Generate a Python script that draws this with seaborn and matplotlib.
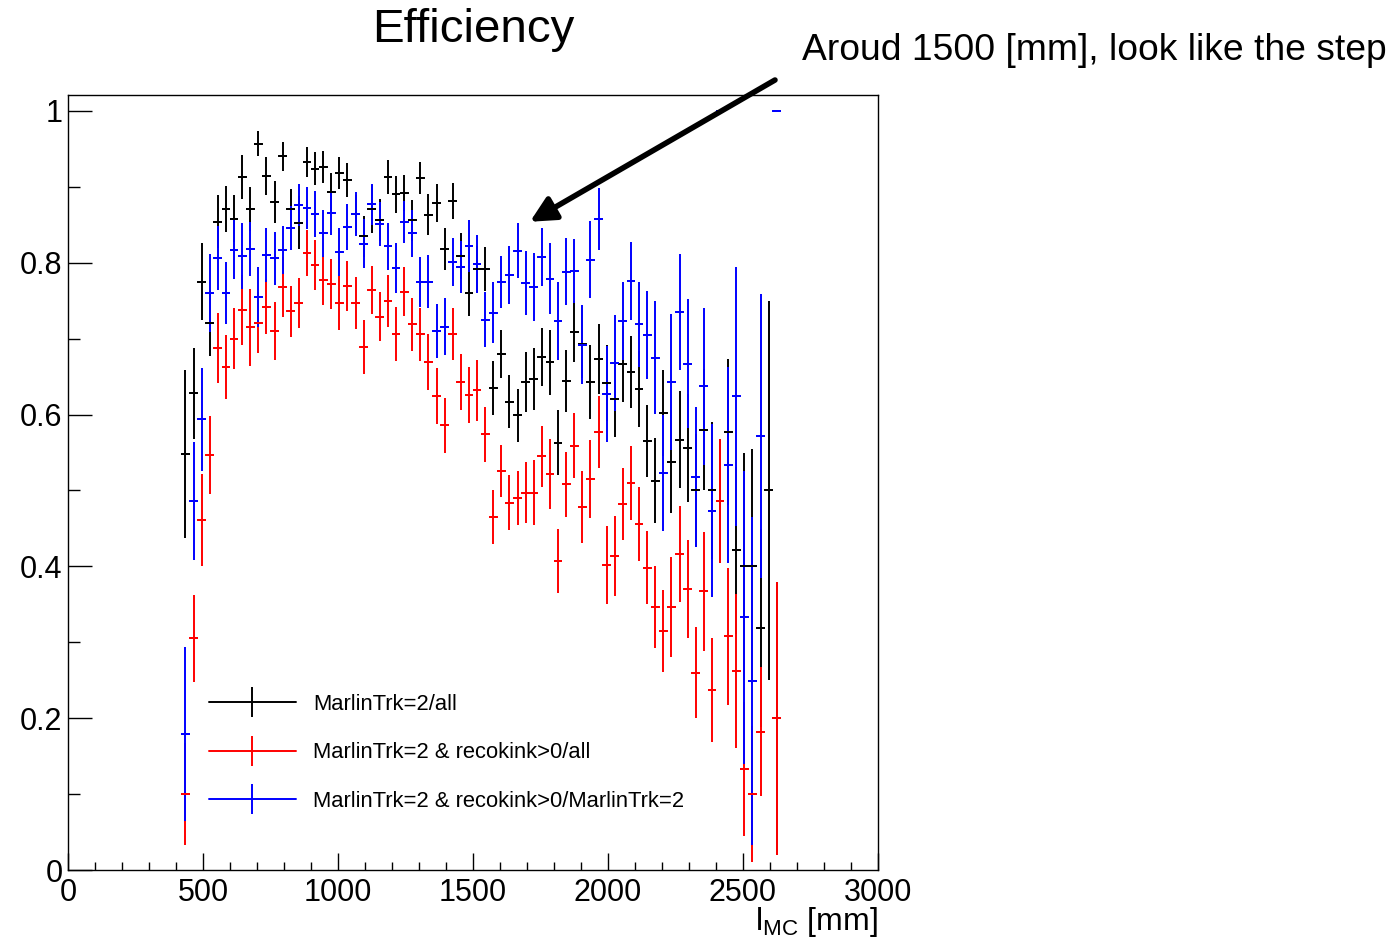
import numpy as np
import matplotlib
matplotlib.use("Agg")
import matplotlib.pyplot as plt
from matplotlib.lines import Line2D
from matplotlib.ticker import MultipleLocator
import seaborn as sns
import pandas as pd

# ---------------- data ----------------
# bin centres [mm] (bins of 30 mm, 435 ... 2625)
bin_centers = np.arange(435, 2626, 30)

eff_all = [0.548, 0.628, 0.775, 0.720, 0.854, 0.871, 0.858, 0.913, 0.871, 0.957, 0.914, 0.880, 0.940,
           0.871, 0.853, 0.933, 0.924, 0.926, 0.893, 0.918, 0.909, 0.864, 0.835, 0.871, 0.856, 0.913,
           0.890, 0.892, 0.856, 0.912, 0.863, 0.879, 0.818, 0.881, 0.809, 0.760, 0.792, 0.792, 0.635,
           0.680, 0.617, 0.599, 0.643, 0.647, 0.676, 0.669, 0.563, 0.644, 0.709, 0.693, 0.643, 0.673,
           0.642, 0.621, 0.667, 0.656, 0.634, 0.565, 0.513, 0.602, 0.538, 0.567, 0.556, 0.500, 0.580,
           0.500, 0.486, 0.577, 0.421, 0.400, 0.400, 0.319, 0.500, 0.200]
err_all = [0.111, 0.060, 0.051, 0.043, 0.035, 0.030, 0.031, 0.029, 0.029, 0.017, 0.025, 0.028, 0.019,
           0.026, 0.035, 0.020, 0.022, 0.021, 0.025, 0.021, 0.022, 0.025, 0.027, 0.032, 0.028, 0.022,
           0.024, 0.024, 0.027, 0.021, 0.027, 0.025, 0.028, 0.024, 0.030, 0.030, 0.030, 0.029, 0.035,
           0.032, 0.035, 0.035, 0.039, 0.041, 0.038, 0.043, 0.043, 0.041, 0.040, 0.045, 0.049, 0.046,
           0.050, 0.050, 0.050, 0.047, 0.050, 0.047, 0.056, 0.057, 0.068, 0.064, 0.071, 0.075, 0.080,
           0.090, 0.082, 0.096, 0.110, 0.150, 0.155, 0.130, 0.250, 0.180]

eff_kink = [0.100, 0.305, 0.461, 0.547, 0.688, 0.663, 0.700, 0.738, 0.715, 0.721, 0.742, 0.710, 0.768,
            0.736, 0.747, 0.813, 0.797, 0.777, 0.772, 0.747, 0.769, 0.747, 0.689, 0.764, 0.729, 0.750,
            0.706, 0.762, 0.719, 0.706, 0.669, 0.625, 0.586, 0.706, 0.643, 0.626, 0.632, 0.574, 0.465,
            0.526, 0.484, 0.490, 0.497, 0.497, 0.545, 0.522, 0.407, 0.508, 0.559, 0.478, 0.515, 0.577,
            0.402, 0.414, 0.482, 0.510, 0.456, 0.398, 0.346, 0.315, 0.346, 0.416, 0.370, 0.260, 0.367,
            0.237, 0.486, 0.308, 0.262, 0.133, 0.100, 0.182, np.nan, 0.200]
err_kink = [0.067, 0.057, 0.061, 0.051, 0.046, 0.042, 0.040, 0.046, 0.051, 0.040, 0.036, 0.038, 0.040,
            0.034, 0.033, 0.030, 0.033, 0.032, 0.033, 0.035, 0.033, 0.034, 0.036, 0.032, 0.032, 0.034,
            0.036, 0.032, 0.035, 0.035, 0.037, 0.037, 0.036, 0.034, 0.037, 0.037, 0.040, 0.036, 0.036,
            0.034, 0.036, 0.036, 0.040, 0.043, 0.040, 0.046, 0.042, 0.043, 0.043, 0.047, 0.051, 0.048,
            0.051, 0.053, 0.047, 0.049, 0.049, 0.048, 0.054, 0.054, 0.066, 0.063, 0.065, 0.060, 0.078,
            0.068, 0.082, 0.090, 0.101, 0.088, 0.090, 0.085, np.nan, 0.180]

eff_ratio = [0.179, 0.486, 0.594, 0.760, 0.806, 0.760, 0.817, 0.809, 0.818, 0.755, 0.810, 0.806, 0.817,
             0.846, 0.876, 0.872, 0.864, 0.839, 0.866, 0.814, 0.847, 0.864, 0.825, 0.877, 0.851, 0.822,
             0.793, 0.854, 0.839, 0.775, 0.775, 0.710, 0.716, 0.801, 0.794, 0.822, 0.798, 0.725, 0.734,
             0.775, 0.784, 0.816, 0.773, 0.768, 0.808, 0.779, 0.723, 0.788, 0.789, 0.692, 0.804, 0.858,
             0.627, 0.668, 0.723, 0.776, 0.719, 0.705, 0.675, 0.523, 0.643, 0.735, 0.667, 0.518, 0.637,
             0.473, 1.000, 0.534, 0.624, 0.333, 0.249, 0.572, np.nan, 1.000]
err_ratio = [0.115, 0.078, 0.068, 0.051, 0.042, 0.041, 0.039, 0.043, 0.036, 0.039, 0.036, 0.035, 0.032,
             0.029, 0.028, 0.028, 0.030, 0.031, 0.029, 0.032, 0.030, 0.029, 0.032, 0.027, 0.029, 0.031,
             0.033, 0.028, 0.031, 0.033, 0.035, 0.036, 0.037, 0.032, 0.034, 0.034, 0.038, 0.036, 0.040,
             0.034, 0.038, 0.036, 0.042, 0.045, 0.038, 0.047, 0.051, 0.044, 0.042, 0.052, 0.051, 0.041,
             0.063, 0.063, 0.051, 0.051, 0.056, 0.058, 0.074, 0.076, 0.090, 0.076, 0.085, 0.092, 0.103,
             0.114, 0.000, 0.129, 0.171, 0.193, 0.216, 0.187, np.nan, 0.000]

labels = ["MarlinTrk=2/all",
          "MarlinTrk=2 & recokink>0/all",
          "MarlinTrk=2 & recokink>0/MarlinTrk=2"]
colors = ["#000000", "#ff0000", "#0000ff"]
bin_half_width = 15

# ---------------- style ----------------
sns.set_style("ticks")
plt.rcParams["font.family"] = ["Liberation Sans", "DejaVu Sans"]
plt.rcParams["mathtext.fontset"] = "custom"
plt.rcParams["mathtext.rm"] = "Liberation Sans"
plt.rcParams["mathtext.it"] = "Liberation Sans:italic"
plt.rcParams["text.color"] = "black"
plt.rcParams["axes.labelcolor"] = "black"
plt.rcParams["xtick.color"] = "black"
plt.rcParams["ytick.color"] = "black"
plt.rcParams["axes.edgecolor"] = "black"

fig = plt.figure(figsize=(13.98, 9.39), dpi=100)
ax = fig.add_axes([68 / 1398, 1 - 870 / 939, 810 / 1398, 775 / 939])

frames = []
for lab, v, e in zip(labels, [eff_all, eff_kink, eff_ratio], [err_all, err_kink, err_ratio]):
    frames.append(pd.DataFrame({"x": bin_centers, "eff": v, "err": e, "series": lab}))
df = pd.concat(frames, ignore_index=True)

for lab, col in zip(labels, colors):
    d = df[(df["series"] == lab) & df["eff"].notna()]
    v = d["eff"].to_numpy()
    e = d["err"].to_numpy()
    lo = np.minimum(e, v)
    hi = np.minimum(e, 1 - v)
    ax.errorbar(d["x"], v, yerr=[lo, hi], xerr=bin_half_width, fmt="none",
                ecolor=col, elinewidth=1.4, capsize=0)

# horizontal centre marks drawn via seaborn (same as bin width)
sns.scatterplot(data=df.dropna(subset=["eff"]), x="x", y="eff", hue="series",
                hue_order=labels, palette=colors, marker="_", s=40, linewidth=1.4,
                legend=False, ax=ax, zorder=3)

ax.set_xlim(0, 3000)
ax.set_ylim(0, 1.021)
ax.set_xlabel("")
ax.set_ylabel("")

ax.xaxis.set_minor_locator(MultipleLocator(100))
ax.yaxis.set_minor_locator(MultipleLocator(0.1))
ax.set_yticks([0, 0.2, 0.4, 0.6, 0.8, 1.0])
ax.set_yticklabels(["0", "0.2", "0.4", "0.6", "0.8", "1"])
ax.set_xticks([0, 500, 1000, 1500, 2000, 2500, 3000])
ax.set_xticklabels(["0", "500", "1000", "1500", "2000", "2500", "3000"])
ax.tick_params(axis="both", which="both", direction="in", top=False, right=False,
               labelsize=22, width=1.0, color="black", labelcolor="black")
ax.tick_params(axis="x", which="major", length=12.5, pad=6)
ax.tick_params(axis="x", which="minor", length=6)
ax.tick_params(axis="y", which="major", length=17, pad=4)
ax.tick_params(axis="y", which="minor", length=8.5)
for s in ax.spines.values():
    s.set_linewidth(1.0)
    s.set_color("black")
    s.set_visible(True)

# legend (ROOT-like: long line with vertical error bar)
handles = [Line2D([], [], color=c, lw=1.4, marker="|", markersize=21, markeredgewidth=1.4)
           for c in colors]
leg = ax.legend(handles, labels, loc="center left", bbox_to_anchor=(0.174, 0.151),
                frameon=False, fontsize=15.8, handlelength=3.95, handletextpad=0.8,
                labelspacing=1.25, borderpad=0, borderaxespad=0, numpoints=1)
for t in leg.get_texts():
    t.set_color("black")

# titles and annotation
fig.text(473 / 1398, 1 - 30 / 939, "Efficiency", ha="center", va="center", fontsize=34.2)
fig.text(878 / 1398, 1 - 930 / 939, r"l$_{\mathrm{MC}}$ [mm]", ha="right", va="baseline",
         fontsize=23)
fig.text(802 / 1398, 1 - 50 / 939, "Aroud 1500 [mm], look like the step", ha="left",
         va="center", fontsize=26.8)
ax.annotate("", xy=(1711, 0.854), xycoords="data",
            xytext=(775 / 1398, 1 - 80 / 939), textcoords="figure fraction",
            arrowprops=dict(arrowstyle="-|>", lw=4, color="black", mutation_scale=38,
                            shrinkA=0, shrinkB=0),
            annotation_clip=False)

fig.savefig("out.png", dpi=100)
